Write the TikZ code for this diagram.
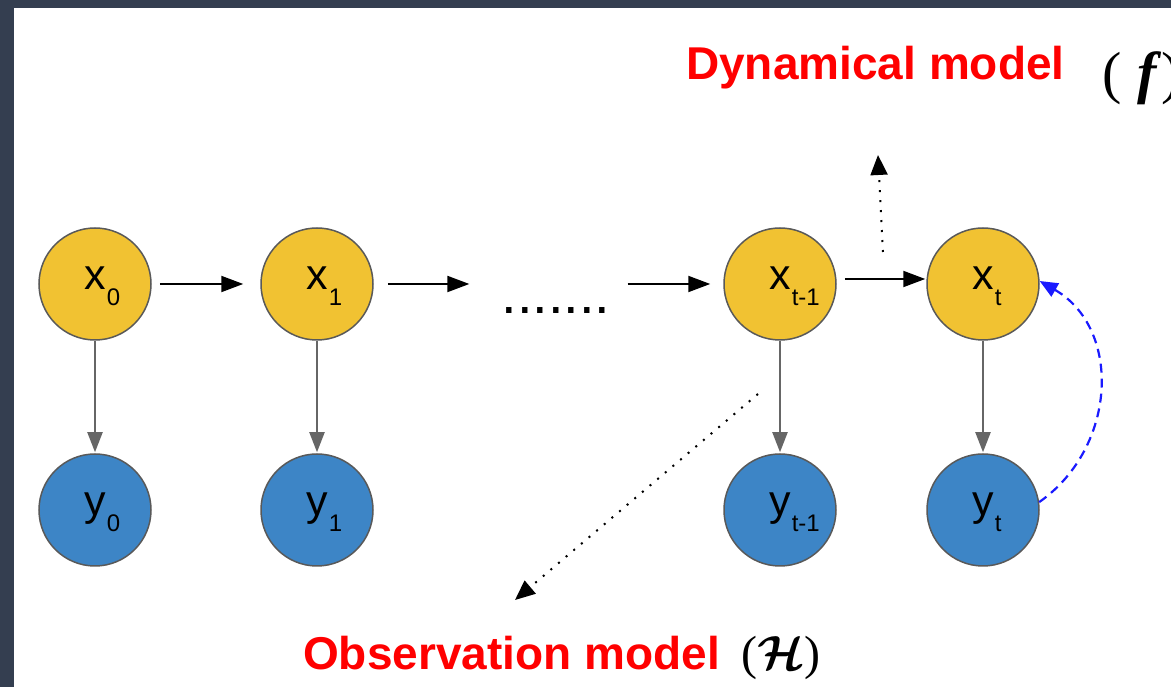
\RequirePackage{fix-cm}
\documentclass[tikz,border=0pt]{standalone}
\usepackage{amssymb}
\usepackage{amsmath}
\usepackage{fontspec}
\setmainfont{Liberation Sans}
\newfontfamily\timesfont{Liberation Serif}
\usepackage{tikz}
\usetikzlibrary{calc,arrows.meta}
\definecolor{stateyellow}{HTML}{F1C232}
\definecolor{obsblue}{HTML}{3D85C6}
\definecolor{framegrey}{HTML}{343E50}
\definecolor{edgegrey}{HTML}{666666}
\definecolor{rimgrey}{HTML}{595959}
\definecolor{loopblue}{HTML}{1A1AFF}
\newcommand{\lowidx}[2]{#1\rlap{\smash{\raisebox{-16pt}{\hspace{1pt}\fontsize{24}{24}\selectfont #2}}}}

\begin{document}
\begin{tikzpicture}[x=1pt,y=1pt,
  state/.style={circle,draw=rimgrey,line width=1.5pt,minimum size=112pt,inner sep=0pt,
    text height=12pt,text depth=0pt,font=\fontsize{43}{43}\selectfont},
  hidden/.style={state,fill=stateyellow},
  seen/.style={state,fill=obsblue},
  flow/.style={line width=2pt,-{Triangle[length=22pt,width=16pt]}},
  emit/.style={edgegrey,line width=2pt,-{Triangle[length=20pt,width=15pt]}},
  hint/.style={line width=2pt,dash pattern=on 2pt off 8pt,-{Triangle[length=20pt,width=17pt]}},
  feedback/.style={loopblue,line width=2.2pt,dash pattern=on 9pt off 6pt,-{Triangle[length=18pt,width=15pt]}},
  caption/.style={red,font=\fontsize{46}{46}\selectfont\bfseries,inner sep=0pt,anchor=base west}]
\useasboundingbox (0,0) rectangle (1171,687);
\fill [white] (0,0) rectangle (1171,687);
\fill [framegrey] (0,0) rectangle (14,687);
\fill [framegrey] (0,679) rectangle (1171,687);

\node [hidden] (x0) at (95,403) {\lowidx{x}{0}};
\node [hidden] (x1) at (317,403) {\lowidx{x}{1}};
\node [hidden] (xt1) at (780,403) {\lowidx{x}{t-1}};
\node [hidden] (xt) at (983,403) {\lowidx{x}{t}};
\node [seen] (y0) at (95,177) {\lowidx{y}{0}};
\node [seen] (y1) at (317,177) {\lowidx{y}{1}};
\node [seen] (yt1) at (780,177) {\lowidx{y}{t-1}};
\node [seen] (yt) at (983,177) {\lowidx{y}{t}};
\node [font=\fontsize{56}{56}\selectfont,inner sep=0pt,anchor=base] (dots) at (556,373) {.......};

\node [caption] (dynlabel) at (686,607) {Dynamical model};
\node [anchor=base west,inner sep=0pt,font=\timesfont\fontsize{58}{58}\selectfont] (dynsym) at (1102,594) {(\hspace{16pt}\textbf{\textit{f}})};
\node [caption] (obslabel) at (303,17) {Observation model};
\node [anchor=base west,inner sep=0pt,font=\fontsize{48}{48}\selectfont] (obssym) at (741,17) {{\timesfont(}$\boldsymbol{\mathcal{H}}${\timesfont)}};

\coordinate (dynbase) at (883,435);
\coordinate (dyntip) at (878,532);
\coordinate (obsbase) at (758,293);
\coordinate (obstip) at (515,87);

\draw [flow,shorten <=8pt,shorten >=17pt] (x0) -- (x1);
\draw [flow,shorten <=14pt,shorten >=32pt] (x1.east) -- (x1.east -| dots.west);
\draw [flow,shorten <=17pt,shorten >=13pt] (xt1.west -| dots.east) -- (xt1.west);
\draw [flow,shorten <=8pt,shorten >=1pt] ([yshift=5pt]xt1.east) -- ([yshift=5pt]xt.west);

\draw [emit,shorten >=1pt] (x0) -- (y0);
\draw [emit,shorten >=1pt] (x1) -- (y1);
\draw [emit,shorten >=1pt] (xt1) -- (yt1);
\draw [emit,shorten >=1pt] (xt) -- (yt);

\draw [hint] (dynbase) -- (dyntip);
\draw [hint] (obsbase) -- (obstip);
\draw [feedback] (yt.8) to [out=35,in=-30,looseness=1.1] (xt.3);
\end{tikzpicture}
\end{document}
